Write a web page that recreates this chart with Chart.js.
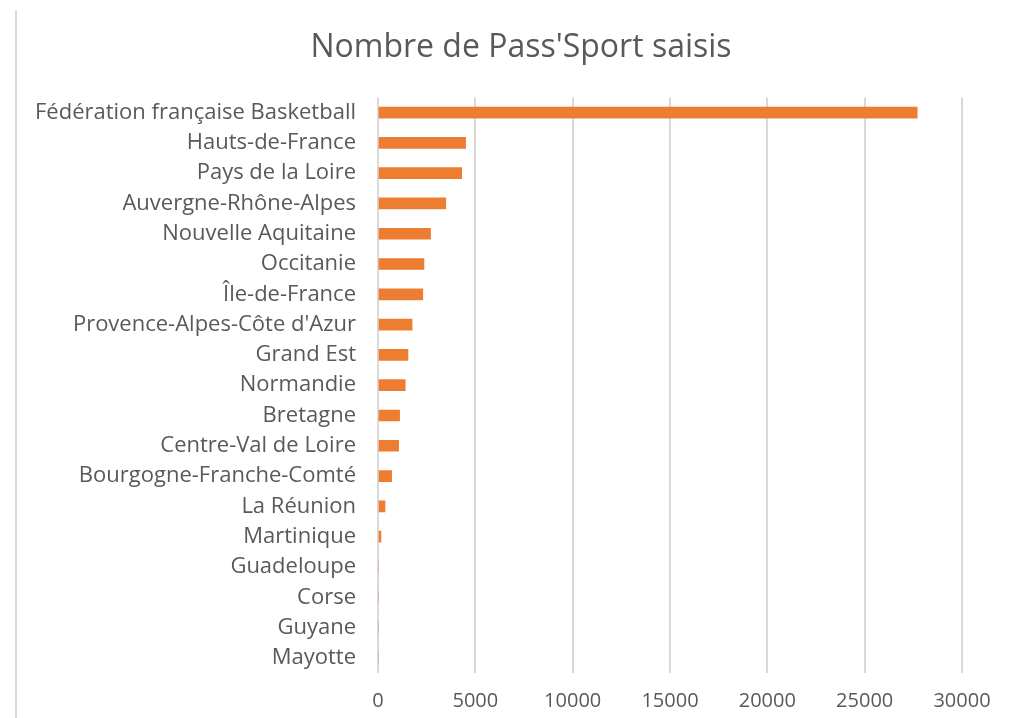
<!DOCTYPE html>
<html>
<head>
<meta charset="utf-8">
<script src="https://cdn.jsdelivr.net/npm/chart.js@4/dist/chart.umd.min.js"></script>
<style>
  html, body { margin: 0; padding: 0; background: #ffffff; }
  #wrap { position: relative; width: 1010px; height: 718px; }
  #edge { position: absolute; left: 15px; top: 10px; width: 2px; height: 708px; background: #d9d9d9; }
  canvas { position: absolute; left: 0; top: 0; }
</style>
</head>
<body>
<div id="wrap">
  <div id="edge"></div>
  <canvas id="c" width="1010" height="718"></canvas>
</div>
<script>
const categories = [
  "Fédération française Basketball",
  "Hauts-de-France",
  "Pays de la Loire",
  "Auvergne-Rhône-Alpes",
  "Nouvelle Aquitaine",
  "Occitanie",
  "Île-de-France",
  "Provence-Alpes-Côte d'Azur",
  "Grand Est",
  "Normandie",
  "Bretagne",
  "Centre-Val de Loire",
  "Bourgogne-Franche-Comté",
  "La Réunion",
  "Martinique",
  "Guadeloupe",
  "Corse",
  "Guyane",
  "Mayotte"
];
const passSportValues = [27700, 4500, 4300, 3480, 2700, 2360, 2300, 1750, 1540, 1400, 1110, 1060, 700, 360, 150, 0, 0, 0, 0];
const xTicks = [0, 5000, 10000, 15000, 20000, 25000, 30000];
const chartTitle = "Nombre de Pass'Sport saisis";

const FONT = "'Open Sans', sans-serif";
const GRAY = "#595959";

// widen the y-axis label clip area to the canvas edge (labels stay right-aligned at the axis)
const widenLabelClip = {
  id: 'widenLabelClip',
  afterLayout(chart) { chart.scales.y.left = 0; }
};

new Chart(document.getElementById('c'), {
  type: 'bar',
  data: {
    labels: categories,
    datasets: [{
      label: chartTitle,
      data: passSportValues,
      backgroundColor: '#ED7D31',
      borderWidth: 0,
      barThickness: 11
    }]
  },
  plugins: [widenLabelClip],
  options: {
    indexAxis: 'y',
    responsive: false,
    animation: false,
    layout: { padding: { left: 80, right: 48, top: 0, bottom: 0 } },
    plugins: {
      legend: { display: false },
      tooltip: { enabled: false },
      title: {
        display: true,
        text: chartTitle,
        color: GRAY,
        font: { family: FONT, size: 32, weight: 'normal' },
        padding: { top: 29, bottom: 30 }
      }
    },
    scales: {
      x: {
        min: 0,
        max: 30000,
        afterBuildTicks: (scale) => { scale.ticks = xTicks.map(v => ({ value: v })); },
        afterFit: (scale) => { scale.height = 45; },
        grid: { color: '#d9d9d9', lineWidth: 2, drawTicks: false },
        border: { display: false },
        ticks: { color: GRAY, font: { family: FONT, size: 20 }, padding: 16, maxRotation: 0, callback: (v) => String(v) }
      },
      y: {
        grid: { display: false, drawTicks: false },
        border: { display: false },
        afterFit: (scale) => { scale.width = 298; },
        ticks: { color: GRAY, font: { family: FONT, size: 22 }, padding: 22, autoSkip: false }
      }
    }
  }
});
</script>
</body>
</html>
